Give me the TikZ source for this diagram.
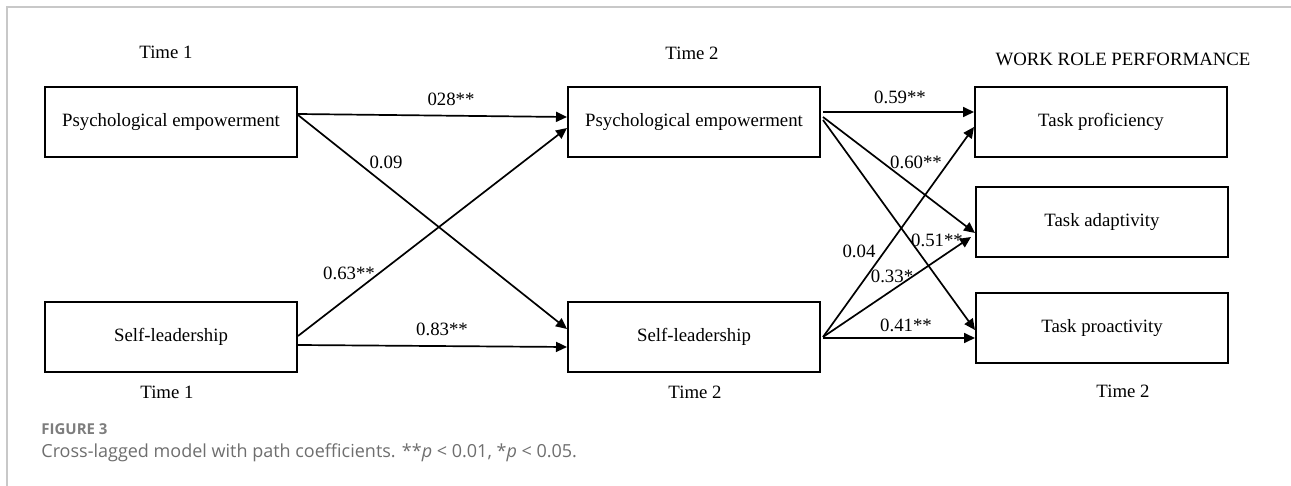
\documentclass[tikz,border=0pt]{standalone}
\usepackage{fontspec}
\setmainfont{Liberation Serif}
\newfontfamily\capfont{Open Sans}
\usepackage{tikz}
\usetikzlibrary{arrows.meta, positioning}
\definecolor{framegray}{RGB}{200, 200, 200}
\definecolor{figgray}{RGB}{125, 125, 125}
\definecolor{capgray}{RGB}{110, 110, 110}

\begin{document}
\begin{tikzpicture}[x=0.5pt, y=-0.5pt,
    >={Triangle[length=5.5pt, width=5pt]},
    box/.style={draw, line width=1pt, minimum width=126pt,
      minimum height=35pt, inner sep=0pt,
      font=\fontsize{9.4}{11}\selectfont},
    lbl/.style={inner sep=0pt, font=\fontsize{9.4}{11}\selectfont},
    conn/.style={->, line width=0.85pt}]
  \useasboundingbox (0,0) rectangle (1291,486);
  % ── Frame ──
  \draw[framegray, line width=0.8pt] (1291,7) -- (7,7) -- (7,486);
  % ── Time 1 ──
  \node[box] (pe1) at (171,122) {Psychological empowerment};
  \node[box] (sl1) at (171,337) {Self-leadership};
  \node[lbl] (t1top) at (166,52) {Time 1};
  \node[lbl] (t1bot) at (167,392) {Time 1};
  % ── Time 2 ──
  \node[box] (pe2) at (694,122) {Psychological empowerment};
  \node[box] (sl2) at (694,337) {Self-leadership};
  \node[lbl] (t2top) at (692,53) {Time 2};
  \node[lbl] (t2bot) at (695,392) {Time 2};
  % ── Work role performance ──
  \node[box] (tprof) at (1101,122) {Task proficiency};
  \node[box] (tadap) at (1102,222) {Task adaptivity};
  \node[box] (tproa) at (1102,328) {Task proactivity};
  \node[lbl] (wrp) at (1123,59) {WORK ROLE PERFORMANCE};
  \node[lbl] (t2right) at (1123,391) {Time 2};
  % ── Cross-lagged paths ──
  \draw[conn] ([yshift=4pt]pe1.east) -- ([yshift=2.5pt]pe2.west);
  \draw[conn] ([yshift=3.5pt]pe1.east) -- ([yshift=4pt]sl2.west);
  \draw[conn] ([yshift=0.5pt]sl1.east) -- ([yshift=-3pt]pe2.west);
  \draw[conn] ([yshift=-4pt]sl1.east) -- ([yshift=-5pt]sl2.west);
  \node[lbl] (c1) at (451,99) {028**};
  \node[lbl] (c2) at (386,162) {0.09};
  \node[lbl] (c3) at (349,273) {0.63**};
  \node[lbl] (c4) at (442,329) {0.83**};
  % ── Paths to performance ──
  \draw[conn] ([xshift=1pt, yshift=5pt]pe2.east) -- ([yshift=5pt]tprof.west);
  \draw[conn] ([xshift=1pt, yshift=2.5pt]pe2.east) -- ([yshift=-5.5pt]tadap.west);
  \draw[conn] ([xshift=1pt, yshift=1pt]pe2.east) -- ([yshift=-1pt]tproa.west);
  \draw[conn] ([xshift=1pt]sl2.east) -- ([yshift=-2.5pt]tprof.west);
  \draw[conn] ([xshift=1pt]sl2.east) -- ([xshift=-2pt, yshift=-7.5pt]tadap.west);
  \draw[conn] ([xshift=1pt, yshift=-0.5pt]sl2.east) -- ([yshift=-5pt]tproa.west);
  \node[lbl] (c5) at (900,97) {0.59**};
  \node[lbl] (c6) at (916,162) {0.60**};
  \node[lbl] (c7) at (937,240) {0.51**};
  \node[lbl] (c8) at (859,251) {0.04};
  \node[lbl] (c9) at (892,276) {0.33*};
  \node[lbl] (c10) at (906,325) {0.41**};
  % ── Caption ──
  \node[anchor=west, inner sep=0pt, figgray,
        font=\capfont\bfseries\fontsize{7.5}{9}\selectfont] (fig) at (41,429)
    {FIGURE 3};
  \node[anchor=west, inner sep=0pt, capgray,
        font=\capfont\fontsize{9}{11}\selectfont] (cap) at (41,453)
    {Cross-lagged model with path coefficients. **\textit{p} < 0.01, *\textit{p} < 0.05.};
\end{tikzpicture}
\end{document}
